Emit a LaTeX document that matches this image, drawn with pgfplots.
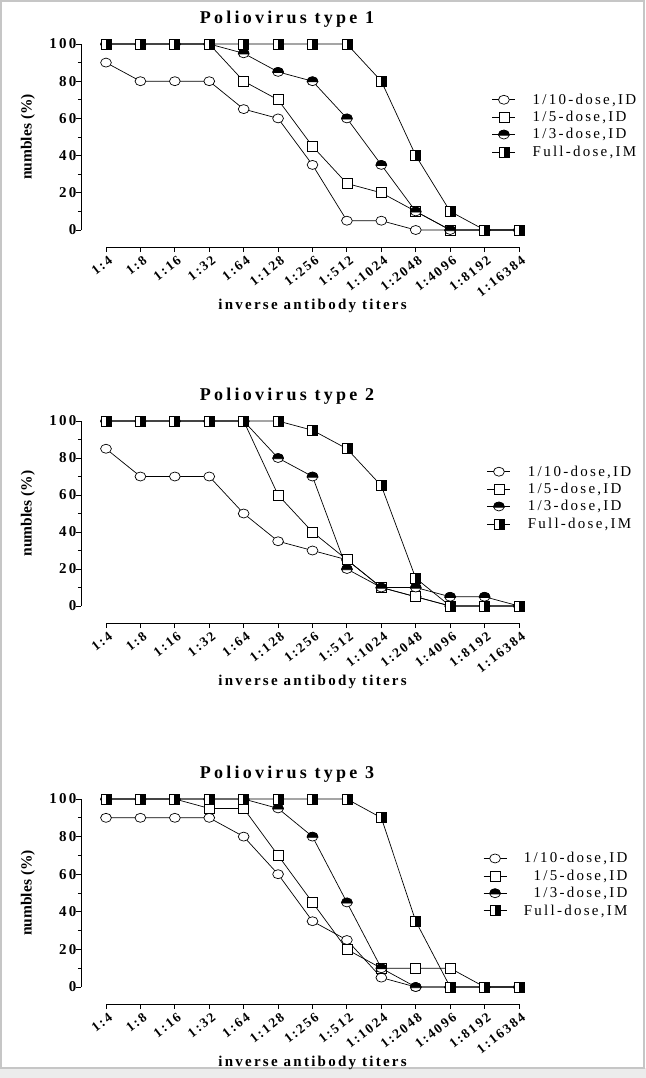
\documentclass[border=0pt]{standalone}
\usepackage{fontspec}
\setmainfont{Liberation Serif}[LetterSpace=15]
\newfontfamily\plainserif{Liberation Serif}
\newfontfamily\widetitle{Liberation Serif}[LetterSpace=18]
\usepackage{pgfplots}
\usepackage{pgfplotstable}
\pgfplotsset{compat=1.18}

\makeatletter
\pgfdeclareplotmark{halfcircletop}{%
  \pgfpathellipse{\pgfpointorigin}{\pgfqpoint{1.2\pgfplotmarksize}{0pt}}{\pgfqpoint{0pt}{\pgfplotmarksize}}%
  \pgfsetfillcolor{white}\pgfusepathqfillstroke
  \pgfpathmoveto{\pgfqpoint{1.2\pgfplotmarksize}{-0.15\pgfplotmarksize}}%
  \pgfpatharc{-7}{187}{1.2\pgfplotmarksize and \pgfplotmarksize}%
  \pgfpathclose
  \pgfsetfillcolor{black}\pgfusepathqfillstroke
}
\pgfdeclareplotmark{halfsqright}{%
  \pgfpathrectangle{\pgfqpoint{-\pgfplotmarksize}{-\pgfplotmarksize}}{\pgfqpoint{2\pgfplotmarksize}{2\pgfplotmarksize}}%
  \pgfsetfillcolor{white}\pgfusepathqfillstroke
  \pgfpathrectangle{\pgfqpoint{0pt}{-\pgfplotmarksize}}{\pgfqpoint{\pgfplotmarksize}{2\pgfplotmarksize}}%
  \pgfsetfillcolor{black}\pgfusepathqfillstroke
}
\pgfdeclareplotmark{ellipseopen}{%
  \pgfpathellipse{\pgfpointorigin}{\pgfqpoint{1.2\pgfplotmarksize}{0pt}}{\pgfqpoint{0pt}{\pgfplotmarksize}}%
  \pgfsetfillcolor{white}\pgfusepathqfillstroke
}
\pgfdeclareplotmark{squareopen}{%
  \pgfpathrectangle{\pgfqpoint{-\pgfplotmarksize}{-\pgfplotmarksize}}{\pgfqpoint{2\pgfplotmarksize}{2\pgfplotmarksize}}%
  \pgfsetfillcolor{white}\pgfusepathqfillstroke
}
\makeatother

\pgfplotstableread{
x a b c d
0 90 100 100 100
1 80 100 100 100
2 80 100 100 100
3 80 100 100 100
4 65 80 95 100
5 60 70 85 100
6 35 45 80 100
7 5 25 60 100
8 5 20 35 80
9 0 10 10 40
10 0 0 0 10
11 0 0 0 0
12 0 0 0 0
}\typeone
\pgfplotstableread{
x a b c d
0 85 100 100 100
1 70 100 100 100
2 70 100 100 100
3 70 100 100 100
4 50 100 100 100
5 35 60 80 100
6 30 40 70 95
7 25 25 20 85
8 10 10 10 65
9 5 5 10 15
10 0 0 5 0
11 0 0 5 0
12 0 0 0 0
}\typetwo
\pgfplotstableread{
x a b c d
0 90 100 100 100
1 90 100 100 100
2 90 100 100 100
3 90 95 100 100
4 80 95 100 100
5 60 70 95 100
6 35 45 80 100
7 25 20 45 100
8 5 10 10 90
9 0 10 0 35
10 0 10 0 0
11 0 0 0 0
12 0 0 0 0
}\typethree

\pgfplotsset{
  polio/.style={
    scale only axis, width=413bp,
    xmin=0, xmax=12, ymin=0, ymax=100,
    axis lines=left,
    axis line style={-, line width=0.9bp, black},
    axis x line shift=17bp,
    axis y line shift=25bp,
    clip=false,
    xtick={0,...,12},
    xticklabels={1:4,1:8,1:16,1:32,1:64,1:128,1:256,1:512,1:1024,1:2048,1:4096,1:8192,1:16384},
    ytick={0,20,40,60,80,100},
    minor ytick={10,30,50,70,90},
    tick align=outside,
    major tick length=5bp, minor tick length=3bp,
    tick style={black, line width=0.9bp},
    x tick label style={font=\bfseries\fontsize{13.5bp}{15bp}\selectfont, rotate=38, anchor=east, xshift=3bp, yshift=-8bp},
    y tick label style={font=\bfseries\fontsize{15bp}{17bp}\selectfont, xshift=4bp},
    /pgf/number format/assume math mode=true,
    ylabel={numbles (\%)},
    ylabel style={font=\plainserif\bfseries\fontsize{15.5bp}{17bp}\selectfont, at={(axis description cs:-0.189,0.5)}, anchor=center},
    xlabel={inverse antibody titers},
    xlabel style={font=\bfseries\fontsize{15bp}{17bp}\selectfont, yshift=7bp},
    title style={font=\widetitle\bfseries\fontsize{18bp}{20bp}\selectfont, at={(axis description cs:0.414,1)}, anchor=center, xshift=10bp, yshift=19bp},
    legend style={draw=none, fill=none, font=\fontsize{15bp}{17bp}\selectfont, row sep=1.5bp, column sep=15bp},
    legend cell align=left,
    legend image code/.code={%
      \draw[#1, mark=none] (0bp,0bp) -- (23bp,0bp);
      \draw[#1] plot coordinates {(11.5bp,0bp)};},
  },
  s1/.style={black, line width=0.7bp, mark=ellipseopen, mark size=4.5bp, mark options={line width=0.7bp}},
  s2/.style={black, line width=0.7bp, mark=squareopen, mark size=5bp, mark options={line width=0.7bp}},
  s3/.style={black, line width=0.7bp, mark=halfcircletop, mark size=4.5bp, mark options={line width=0.7bp}},
  s4/.style={black, line width=0.7bp, mark=halfsqright, mark size=5bp, mark options={line width=0.7bp}},
}

\begin{document}
\begin{tikzpicture}
\path[use as bounding box] (0,0) rectangle (646bp,-1078bp);
\fill[white] (0,0) rectangle (646bp,-1078bp);
\fill[gray!15] (0,-1068bp) rectangle (646bp,-1078bp);
\draw[gray!45, line width=2bp] (1bp,-1bp) rectangle (644bp,-1068bp);

\begin{axis}[polio, height=186bp, at={(106bp,-230bp)}, anchor=south west,
  title={Poliovirus type 1},
  legend style={at={(axis description cs:0.927,0.56)}, anchor=west}]
\addplot[s1] table[x=x,y=a] {\typeone};
\addplot[s2] table[x=x,y=b] {\typeone};
\addplot[s3] table[x=x,y=c] {\typeone};
\addplot[s4] table[x=x,y=d] {\typeone};
\legend{{1/10-dose,ID},{1/5-dose,ID},{1/3-dose,ID},{Full-dose,IM}}
\end{axis}

\begin{axis}[polio, height=185bp, at={(106bp,-606bp)}, anchor=south west,
  title={Poliovirus type 2},
  legend style={at={(axis description cs:0.915,0.585)}, anchor=west}]
\addplot[s1] table[x=x,y=a] {\typetwo};
\addplot[s2] table[x=x,y=b] {\typetwo};
\addplot[s3] table[x=x,y=c] {\typetwo};
\addplot[s4] table[x=x,y=d] {\typetwo};
\legend{{1/10-dose,ID},{1/5-dose,ID},{1/3-dose,ID},{Full-dose,IM}}
\end{axis}

\begin{axis}[polio, height=188bp, at={(106bp,-987bp)}, anchor=south west,
  title={Poliovirus type 3},
  legend cell align=right,
  legend style={at={(axis description cs:1.275,0.545)}, anchor=east}]
\addplot[s1] table[x=x,y=a] {\typethree};
\addplot[s2] table[x=x,y=b] {\typethree};
\addplot[s3] table[x=x,y=c] {\typethree};
\addplot[s4] table[x=x,y=d] {\typethree};
\legend{{1/10-dose,ID},{1/5-dose,ID},{1/3-dose,ID},{Full-dose,IM}}
\end{axis}
\end{tikzpicture}
\end{document}
